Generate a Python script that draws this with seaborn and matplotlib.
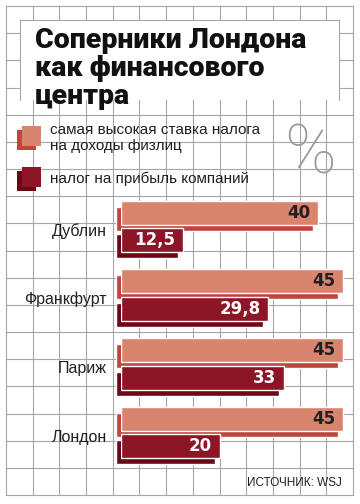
import numpy as np
import pandas as pd
import matplotlib
matplotlib.use("Agg")
import matplotlib.pyplot as plt
import seaborn as sns
from matplotlib.patches import Rectangle
from matplotlib.transforms import ScaledTranslation

# data
cities = ["Дублин", "Франкфурт", "Париж", "Лондон"]
income_tax = [40, 45, 45, 45]
corp_tax = [12.5, 29.8, 33, 20]
series = ["самая высокая ставка налога\nна доходы физлиц", "налог на прибыль компаний"]

front_colors = ["#d9846f", "#8c1626"]
side_colors = ["#bf463c", "#6a0815"]
label_colors = ["#231f20", "white"]
grid_color = "#a5a5a5"

sns.set_style("white")
plt.rcParams["font.family"] = ["Liberation Sans", "DejaVu Sans"]

df = pd.DataFrame({
    "city": cities * 2,
    "kind": [series[0]] * len(cities) + [series[1]] * len(cities),
    "value": income_tax + corp_tax,
})

fig = plt.figure(figsize=(3.6, 5.04), dpi=100)

# background grid in pixel coords
bg = fig.add_axes([0, 0, 1, 1])
bg.set_xlim(0, 360)
bg.set_ylim(504, 0)
bg.axis("off")
for x in np.linspace(6, 353, 14):
    bg.plot([x, x], [6, 495], color=grid_color, lw=0.8, zorder=1)
for y in np.linspace(6, 495, 19):
    bg.plot([6, 353], [y, y], color=grid_color, lw=0.8, zorder=1)

# title box
bg.add_patch(Rectangle((20, 20), 319, 80, facecolor="white", edgecolor="none", zorder=2))
bg.plot([20, 20, 339, 339], [100, 20, 20, 100], color=grid_color, lw=0.8, zorder=3)
title_font = dict(family=["Roboto", "DejaVu Sans"], fontweight="black", fontsize=20.5, color="#111111", zorder=4)
for txt, yb in zip(["Соперники Лондона", "как финансового", "центра"], [48, 76.5, 103.5]):
    bg.text(35, yb, txt, va="baseline", ha="left", **title_font)

# legend
for (y0, fc, sc) in [(126, front_colors[0], side_colors[0]), (167, front_colors[1], side_colors[1])]:
    bg.add_patch(Rectangle((17, y0 + 4), 19, 20, facecolor=sc, edgecolor="none", zorder=3))
    bg.add_patch(Rectangle((22, y0), 19, 20, facecolor=fc, edgecolor="none", zorder=4))
leg_font = dict(fontsize=11, color="#231f20", zorder=4)
bg.text(50, 133.5, "самая высокая ставка налога", va="baseline", **leg_font)
bg.text(50, 150, "на доходы физлиц", va="baseline", **leg_font)
bg.text(50, 183.5, series[1], va="baseline", **leg_font)

bg.text(310.5, 173, "%", ha="center", va="baseline", fontsize=50, color="#9a9a9a",
        family=["Roboto", "DejaVu Sans"], fontweight="light", zorder=4)

bg.text(342, 486.5, "ИСТОЧНИК: WSJ", ha="right", va="baseline", fontsize=8.5,
        family=["Liberation Sans Narrow", "Liberation Sans"], color="#231f20", zorder=4)

# bars
ax = fig.add_axes([121 / 360, 1 - 468 / 504, (352 - 121) / 360, (468 - 197) / 504])
ax.patch.set_alpha(0)

sns.barplot(data=df, x="value", y="city", hue="kind", hue_order=series, palette=side_colors,
            width=0.8, gap=0.125, saturation=1, legend=False, orient="h", ax=ax)
shift = ScaledTranslation(-5 / 100, -6 / 100, fig.dpi_scale_trans)
for p in ax.patches:
    p.set_transform(ax.transData + shift)
    p.set_clip_on(False)
n_side = len(ax.containers)

sns.barplot(data=df, x="value", y="city", hue="kind", hue_order=series, palette=front_colors,
            width=0.8, gap=0.125, saturation=1, legend=False, orient="h", ax=ax)

for cont, col in zip(ax.containers[n_side:], label_colors):
    for bar in cont:
        v = bar.get_width()
        ax.annotate(f"{v:g}".replace(".", ","), (v, bar.get_y() + bar.get_height() / 2),
                    xytext=(-5.5, 0), textcoords="offset points", ha="right", va="center",
                    fontsize=12, fontweight="bold", family="DejaVu Sans", color=col)

ax.set_xlim(0, (352 - 121) / 4.93)
ax.set_ylim(3.517, -0.43)
ax.set_xlabel("")
ax.set_ylabel("")
ax.set_xticks([])
for s in ax.spines.values():
    s.set_visible(False)
ax.tick_params(axis="y", length=0, pad=10, labelsize=11.5, labelcolor="#231f20")
for lbl in ax.get_yticklabels():
    lbl.set_transform(lbl.get_transform() + ScaledTranslation(0, -3 / 100, fig.dpi_scale_trans))

fig.savefig("out.png", dpi=100)
